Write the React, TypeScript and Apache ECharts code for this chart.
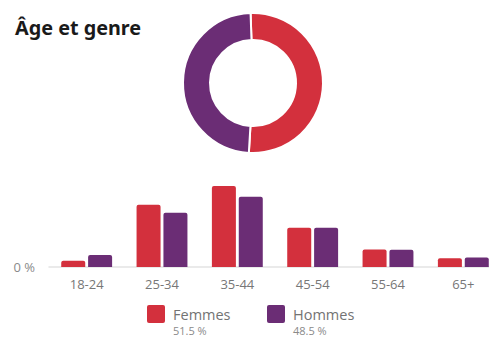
import React, { useEffect, useRef } from "react";
import * as echarts from "echarts";

const title = "Âge et genre";
const categories = ["18-24", "25-34", "35-44", "45-54", "55-64", "65+"];
const seriesNames = ["Femmes", "Hommes"];
const femmes = [1.5, 14.9, 19.4, 9.4, 4.2, 2.1];
const hommes = [2.9, 13.0, 16.8, 9.4, 4.1, 2.3];
const colors = ["#D3303D", "#6B2D75"];

const sum = (a: number[]) => Math.round(a.reduce((s, v) => s + v, 0) * 10) / 10;

export default function App() {
  const ref = useRef<HTMLDivElement>(null);
  useEffect(() => {
    if (!ref.current) return;
    const chart = echarts.init(ref.current, null, { renderer: "svg" });
    const totals = [sum(femmes), sum(hommes)];
    const legendX = [147, 267];
    const graphics: any[] = [];
    seriesNames.forEach((n, i) => {
      graphics.push({
        type: "rect",
        left: legendX[i],
        top: 305,
        shape: { width: 18, height: 18, r: 2 },
        style: { fill: colors[i] },
      });
      graphics.push({
        type: "text",
        left: legendX[i] + 26,
        top: 307,
        style: { text: n, fill: "#737373", font: "14.5px 'Open Sans', sans-serif" },
      });
      graphics.push({
        type: "text",
        left: legendX[i] + 26,
        top: 325,
        style: { text: totals[i].toFixed(1) + " %", fill: "#8a8a8a", font: "11px 'Open Sans', sans-serif" },
      });
    });
    chart.setOption({
      animation: false,
      title: {
        text: title,
        left: 10,
        top: 12,
        textStyle: { fontSize: 19.8, fontWeight: "bold", color: "#1a1a1a", fontFamily: "'Noto Sans', sans-serif" },
      },
      grid: { left: 49, right: -12, top: 162.5, bottom: 73, containLabel: false, outerBoundsMode: "none" },
      xAxis: {
        type: "category",
        data: categories,
        axisLine: { show: true, lineStyle: { color: "#e3e3e3", width: 1.5 } },
        axisTick: { show: false },
        axisLabel: { color: "#777", fontSize: 13, margin: 10, fontFamily: "'Open Sans', sans-serif" },
      },
      yAxis: {
        type: "value",
        min: 0,
        max: 25,
        interval: 25,
        splitLine: { show: false },
        axisLine: { show: false },
        axisTick: { show: false },
        axisLabel: {
          color: "#8a8a8a",
          fontSize: 13,
          margin: 14,
          fontFamily: "'Open Sans', sans-serif",
          formatter: (v: number) => (v === 0 ? "0 %" : ""),
        },
      },
      series: [
        {
          type: "bar",
          name: seriesNames[0],
          data: femmes,
          barWidth: 24,
          barGap: "12%",
          itemStyle: { color: colors[0], borderRadius: [2, 2, 0, 0] },
        },
        {
          type: "bar",
          name: seriesNames[1],
          data: hommes,
          barWidth: 24,
          itemStyle: { color: colors[1], borderRadius: [2, 2, 0, 0] },
        },
        {
          type: "pie",
          center: [253, 83],
          radius: [43, 70],
          startAngle: 92,
          clockwise: true,
          label: { show: false },
          labelLine: { show: false },
          silent: true,
          itemStyle: { borderColor: "#fff", borderWidth: 2 },
          data: seriesNames.map((n, i) => ({ name: n, value: totals[i], itemStyle: { color: colors[i] } })),
        },
      ],
      graphic: graphics,
    });
    return () => chart.dispose();
  }, []);
  return (
    <div
      ref={ref}
      style={{ position: "fixed", left: 0, top: 0, width: 489, height: 340, background: "#fff" }}
    />
  );
}
